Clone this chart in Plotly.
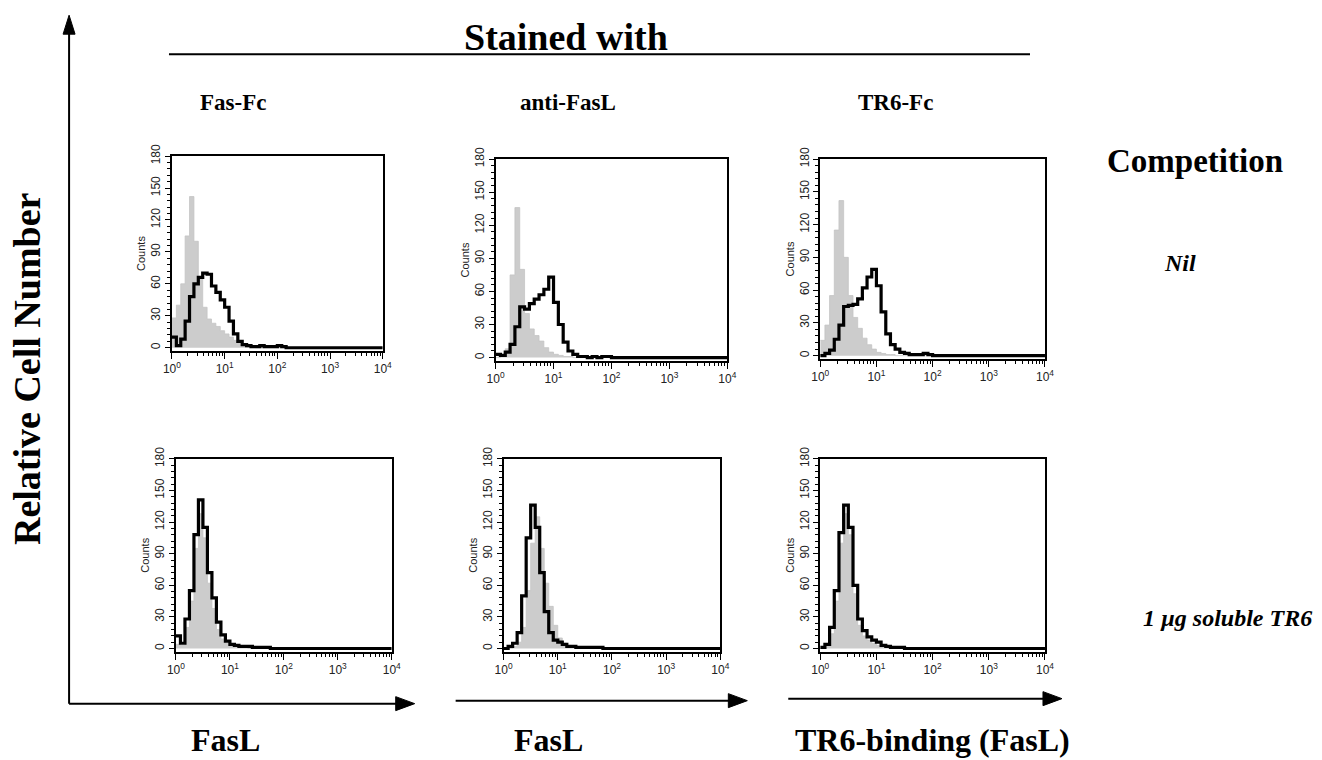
import plotly.graph_objects as go

W, H = 1322, 760

# ---------------- data ----------------
# Histogram counts in log-spaced channels, 12 channels per decade, 10^0 .. 10^4 (48 channels)
CHANNELS_PER_DECADE = 12
N_DECADES = 4

COLUMNS = ["Fas-Fc", "anti-FasL", "TR6-Fc"]
ROWS = ["Nil", "1 \u00b5g soluble TR6"]
X_AXIS_LABELS = ["FasL", "FasL", "TR6-binding (FasL)"]

# Row 1: competition = Nil
FASFC_NIL_CTRL = [28, 40, 60, 105, 142, 100, 65, 38, 27, 23, 20, 16,
                  13, 10, 7, 5, 3, 2, 1, 0, 0, 0, 0, 0,
                  0, 0, 0, 0, 0, 0, 0, 0, 0, 0, 0, 0,
                  0, 0, 0, 0, 0, 0, 0, 0, 0, 0, 0, 0]
FASFC_NIL_STAIN = [10, 2, 8, 25, 48, 60, 66, 70, 69, 58, 52, 45,
                   38, 25, 13, 6, 3, 2, 1, 1, 2, 1, 1, 1,
                   2, 1, 0, 0, 0, 0, 0, 0, 0, 0, 0, 0,
                   0, 0, 0, 0, 0, 0, 0, 0, 0, 0, 0, 0]
ANTIFASL_NIL_CTRL = [0, 1, 8, 75, 136, 80, 40, 26, 20, 15, 9, 5,
                     3, 2, 1, 1, 0, 0, 0, 0, 0, 0, 0, 0,
                     0, 0, 0, 0, 0, 0, 0, 0, 0, 0, 0, 0,
                     0, 0, 0, 0, 0, 0, 0, 0, 0, 0, 0, 0]
ANTIFASL_NIL_STAIN = [3, 2, 5, 12, 28, 46, 44, 49, 53, 57, 62, 73,
                      50, 30, 14, 6, 3, 1, 1, 0, 1, 0, 1, 1,
                      0, 0, 0, 0, 0, 0, 0, 0, 0, 0, 0, 0,
                      0, 0, 0, 0, 0, 0, 0, 0, 0, 0, 0, 0]
TR6FC_NIL_CTRL = [14, 28, 55, 115, 142, 90, 55, 35, 25, 16, 10, 6,
                  3, 2, 1, 1, 0, 0, 0, 0, 0, 0, 0, 0,
                  0, 0, 0, 0, 0, 0, 0, 0, 0, 0, 0, 0,
                  0, 0, 0, 0, 0, 0, 0, 0, 0, 0, 0, 0]
TR6FC_NIL_STAIN = [0, 2, 5, 15, 28, 45, 46, 47, 52, 62, 72, 79,
                   64, 40, 20, 10, 6, 3, 2, 1, 1, 1, 2, 1,
                   0, 0, 0, 0, 0, 0, 0, 0, 0, 0, 0, 0,
                   0, 0, 0, 0, 0, 0, 0, 0, 0, 0, 0, 0]

# Row 2: competition = 1 ug soluble TR6
FASFC_TR6_CTRL = [4, 3, 20, 45, 95, 128, 105, 62, 38, 18, 9, 5,
                  3, 2, 1, 1, 0, 0, 0, 0, 0, 0, 0, 0,
                  0, 0, 0, 0, 0, 0, 0, 0, 0, 0, 0, 0,
                  0, 0, 0, 0, 0, 0, 0, 0, 0, 0, 0, 0]
FASFC_TR6_STAIN = [12, 5, 28, 55, 108, 141, 115, 72, 48, 25, 13, 7,
                   4, 3, 2, 2, 2, 1, 1, 1, 1, 0, 0, 0,
                   0, 0, 0, 0, 0, 0, 0, 0, 0, 0, 0, 0,
                   0, 0, 0, 0, 0, 0, 0, 0, 0, 0, 0, 0]
ANTIFASL_TR6_CTRL = [0, 0, 2, 6, 20, 55, 100, 125, 95, 62, 40, 22,
                     10, 5, 3, 2, 1, 0, 0, 0, 0, 0, 0, 0,
                     0, 0, 0, 0, 0, 0, 0, 0, 0, 0, 0, 0,
                     0, 0, 0, 0, 0, 0, 0, 0, 0, 0, 0, 0]
ANTIFASL_TR6_STAIN = [0, 2, 5, 15, 50, 105, 136, 115, 72, 35, 15, 8,
                      6, 4, 2, 2, 1, 1, 1, 1, 1, 1, 0, 0,
                      0, 0, 0, 0, 0, 0, 0, 0, 0, 0, 0, 0,
                      0, 0, 0, 0, 0, 0, 0, 0, 0, 0, 0, 0]
TR6FC_TR6_CTRL = [0, 2, 14, 45, 100, 128, 108, 52, 22, 12, 8, 5,
                  3, 2, 1, 0, 0, 0, 0, 0, 0, 0, 0, 0,
                  0, 0, 0, 0, 0, 0, 0, 0, 0, 0, 0, 0,
                  0, 0, 0, 0, 0, 0, 0, 0, 0, 0, 0, 0]
TR6FC_TR6_STAIN = [1, 4, 20, 55, 110, 136, 115, 60, 28, 17, 11, 8,
                   6, 3, 2, 1, 1, 1, 0, 0, 0, 0, 0, 0,
                   0, 0, 0, 0, 0, 0, 0, 0, 0, 0, 0, 0,
                   0, 0, 0, 0, 0, 0, 0, 0, 0, 0, 0, 0]

PANEL_DATA = [
    (FASFC_NIL_CTRL, FASFC_NIL_STAIN),
    (ANTIFASL_NIL_CTRL, ANTIFASL_NIL_STAIN),
    (TR6FC_NIL_CTRL, TR6FC_NIL_STAIN),
    (FASFC_TR6_CTRL, FASFC_TR6_STAIN),
    (ANTIFASL_TR6_CTRL, ANTIFASL_TR6_STAIN),
    (TR6FC_TR6_CTRL, TR6FC_TR6_STAIN),
]

Y_TICKS = [0, 30, 60, 90, 120, 150, 180]
X_TICKS = [1, 10, 100, 1000, 10000]
X_TICK_TEXT = ["10<sup>0</sup>", "10<sup>1</sup>", "10<sup>2</sup>", "10<sup>3</sup>", "10<sup>4</sup>"]

# ---------------- layout helpers ----------------
# page-pixel -> paper coordinates (with a small correction for how the page is captured)
SX, OX = 0.9875, 7.85
SY, OY = 0.985, 10.8


def px(x):
    return ((x - OX) / SX) / W


def py(y):
    return 1 - ((y - OY) / SY) / H


# panel boxes in pixels: (left, top, right, bottom)
PANEL_BOXES = [
    (171, 155, 382, 350),
    (495, 158, 727, 360),
    (820, 158, 1045, 358),
    (175, 458, 391, 651),
    (503, 458, 720, 651),
    (820, 458, 1045, 651),
]

n = CHANNELS_PER_DECADE * N_DECADES
edges = [10 ** (i / CHANNELS_PER_DECADE) for i in range(n + 1)]
minor_vals = [m * 10 ** d for d in range(N_DECADES) for m in range(2, 10)]

TICK_FONT = dict(family="Liberation Sans", size=12, color="#222")

fig = go.Figure()
layout = {}
for k, ((ctrl, stain), box) in enumerate(zip(PANEL_DATA, PANEL_BOXES)):
    idx = "" if k == 0 else str(k + 1)
    xa, ya = "x" + idx, "y" + idx
    fig.add_trace(go.Scatter(
        x=edges, y=list(ctrl) + [ctrl[-1]], mode="lines", line_shape="hv",
        line=dict(color="#c4c4c4", width=0.8), fill="tozeroy", fillcolor="#cccccc",
        xaxis=xa, yaxis=ya, showlegend=False, hoverinfo="skip"))
    fig.add_trace(go.Scatter(
        x=edges, y=list(stain) + [stain[-1]], mode="lines", line_shape="hv",
        line=dict(color="black", width=3.2),
        xaxis=xa, yaxis=ya, showlegend=False, hoverinfo="skip"))
    l, t, r, b = box
    layout["xaxis" + idx] = dict(
        domain=[px(l), px(r)], anchor=ya, type="log", range=[0, 4],
        showline=True, mirror=True, linecolor="black", linewidth=1.8,
        ticks="outside", ticklen=6, tickwidth=1.4, tickcolor="black",
        tickvals=X_TICKS, ticktext=X_TICK_TEXT, tickfont=TICK_FONT,
        showgrid=False, zeroline=False,
        minor=dict(ticks="outside", ticklen=3, tickwidth=1.2, tickcolor="black",
                   tickvals=minor_vals, showgrid=False))
    layout["yaxis" + idx] = dict(
        domain=[py(b), py(t)], anchor=xa, range=[-3, 180],
        showline=True, mirror=True, linecolor="black", linewidth=1.8,
        ticks="outside", ticklen=5, tickwidth=1.4, tickcolor="black",
        tickvals=Y_TICKS, tickangle=-90, tickfont=TICK_FONT,
        title=dict(text="Counts", standoff=1,
                   font=dict(family="Liberation Sans", size=11, color="#222")),
        showgrid=False, zeroline=False,
        minor=dict(ticks="outside", ticklen=3, tickwidth=1, tickcolor="black",
                   tick0=0, dtick=6, showgrid=False))

SERIF = "Liberation Serif"
annotations = []


def text(x, y, s, size, angle=0):
    annotations.append(dict(x=px(x), y=py(y), xref="paper", yref="paper",
                            text=s, showarrow=False, textangle=angle,
                            font=dict(family=SERIF, size=size, color="black"),
                            xanchor="center", yanchor="middle"))


text(565, 36, "<b>Stained with</b>", 38)
for cx, lab in zip([232, 567, 895], COLUMNS):
    text(cx, 101, "<b>" + lab + "</b>", 23)
text(1195, 160, "<b>Competition</b>", 33)
text(1180, 262, "<b><i>" + ROWS[0] + "</i></b>", 24)
text(1228, 617, "<b><i>" + ROWS[1] + "</i></b>", 24)
text(26, 368, "<b>Relative Cell Number</b>", 38, angle=-90)
for cx, lab in zip([225, 548, 932], X_AXIS_LABELS):
    text(cx, 739, "<b>" + lab + "</b>", 32)

shapes = []


def line(x0, y0, x1, y1, w=2):
    shapes.append(dict(type="line", xref="paper", yref="paper",
                       x0=px(x0), y0=py(y0), x1=px(x1), y1=py(y1),
                       line=dict(color="black", width=w)))


def tri(pts):
    d = "M " + " L ".join(f"{px(a)},{py(b)}" for a, b in pts) + " Z"
    shapes.append(dict(type="path", xref="paper", yref="paper", path=d,
                       fillcolor="black", line=dict(color="black", width=1)))


# "Stained with" rule
line(168, 53, 1030, 53, 2)
# y arrow
line(68, 703, 68, 30, 2)
tri([(62, 33), (74, 33), (68, 14)])
# x arrows
for x0, x1, yy in [(68, 397, 703), (455, 730, 700), (788, 1045, 698)]:
    line(x0, yy, x1, yy, 2)
    tri([(x1 - 2, yy - 7), (x1 - 2, yy + 7), (x1 + 17, yy)])

fig.update_layout(
    width=W, height=H, margin=dict(l=0, r=0, t=0, b=0),
    paper_bgcolor="white", plot_bgcolor="white",
    annotations=annotations, shapes=shapes, **layout)

fig.write_html("out.html", config={"displayModeBar": False},
               post_script="document.body.style.margin='0';"
                           "document.body.style.overflow='hidden';")
